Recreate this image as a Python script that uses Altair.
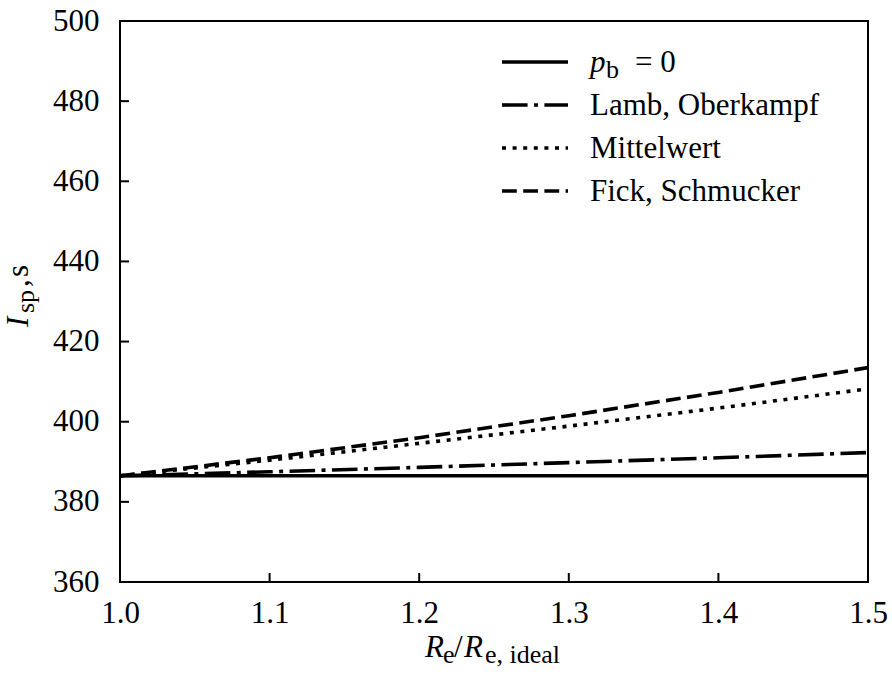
import altair as alt
import pandas as pd

# Specific impulse over expansion ratio for the back-pressure models
x_vals = [1.0, 1.1, 1.2, 1.3, 1.4, 1.5]
isp_pb0 = [386.5, 386.5, 386.5, 386.5, 386.5, 386.5]
isp_lamb = [386.5, 387.5, 388.6, 389.8, 391.0, 392.3]
isp_mittel = [386.5, 390.4, 394.6, 398.9, 403.4, 408.2]
isp_fick = [386.5, 391.0, 396.0, 401.5, 407.3, 413.5]

series_names = ["pb0", "Lamb, Oberkampf", "Mittelwert", "Fick, Schmucker"]
x_ticks = [1.0, 1.1, 1.2, 1.3, 1.4, 1.5]
y_ticks = [360, 380, 400, 420, 440, 460, 480, 500]

W, H = 748, 561
FONT = "Liberation Serif"
FS = 31      # main text size
SUB = 26     # subscript size
LW = 3.6
dashes = [[1, 0], [25.6, 6.4, 4, 6.4], [4, 6.6], [14.8, 6.4]]

rows = []
for name, ys in zip(series_names, [isp_pb0, isp_lamb, isp_mittel, isp_fick]):
    for x, y in zip(x_vals, ys):
        rows.append({"x": x, "isp": y, "series": name})
df = pd.DataFrame(rows)

xscale = alt.Scale(domain=[1.0, 1.5], nice=False, zero=False)
yscale = alt.Scale(domain=[360, 500], nice=False, zero=False)

x_axis = alt.Axis(values=x_ticks, format=".1f", title=None, domain=False, ticks=False,
                  grid=False, labelFont=FONT, labelFontSize=FS, labelPadding=16,
                  labelColor="black", labelFlush=False, labelOverlap=False)
y_axis = alt.Axis(values=y_ticks, format="d", title=None, domain=False, ticks=False,
                  grid=False, labelFont=FONT, labelFontSize=FS, labelPadding=21,
                  labelColor="black", labelFlush=False, labelOverlap=False)

lines = alt.Chart(df).mark_line(strokeWidth=LW, strokeCap="butt", color="black", clip=True).encode(
    x=alt.X("x:Q", scale=xscale, axis=x_axis),
    y=alt.Y("isp:Q", scale=yscale, axis=y_axis),
    strokeDash=alt.StrokeDash("series:N", scale=alt.Scale(domain=series_names, range=dashes),
                              legend=None),
)

# inward pointing ticks on the bottom and left edges
x_tick_marks = alt.Chart(pd.DataFrame({"xt": x_ticks})).mark_rule(color="black", strokeWidth=2).encode(
    x=alt.X("xt:Q", scale=xscale, axis=x_axis),
    y=alt.value(H), y2=alt.value(H - 9),
)
y_tick_marks = alt.Chart(pd.DataFrame({"yt": y_ticks})).mark_rule(color="black", strokeWidth=2).encode(
    y=alt.Y("yt:Q", scale=yscale, axis=y_axis),
    x=alt.value(0), x2=alt.value(9),
)

one = pd.DataFrame({"k": [0]})


def txt(s, x, y, size=FS, italic=False, angle=None):
    kw = dict(font=FONT, fontSize=size, align="left", baseline="alphabetic", color="black")
    if italic:
        kw["fontStyle"] = "italic"
    if angle is not None:
        kw["angle"] = angle
    return alt.Chart(one).mark_text(**kw).encode(
        x=alt.value(x), y=alt.value(y), text=alt.value(s))


def sample(dash, y):
    return alt.Chart(one).mark_rule(strokeWidth=LW, strokeCap="butt", color="black",
                                    strokeDash=dash).encode(
        x=alt.value(382), x2=alt.value(448), y=alt.value(y))


# x axis title: R_e / R_e,ideal
xb = 636
x_title = [
    txt("R", 305, xb, italic=True),
    txt("e", 323, xb + 6, size=SUB),
    txt("/", 334, xb),
    txt("R", 344, xb, italic=True),
    txt("e, ideal", 365, xb + 6, size=SUB),
]

# y axis title: I_sp, s (rotated)
yb = -92
y_title = [
    txt("I", yb, 306, italic=True, angle=270),
    txt("sp", yb + 6, 292, size=SUB, angle=270),
    txt(",", yb, 266, angle=270),
    txt("s", yb, 256, angle=270),
]

# legend
legend_lines = [41, 84, 127, 170]
legend = [sample(d, ly) for d, ly in zip(dashes, legend_lines)]
lb = [ly + 10 for ly in legend_lines]
legend += [
    txt("p", 470, lb[0], italic=True),
    txt("b", 486, lb[0] + 6, size=SUB),
    txt("= 0", 515, lb[0]),
    txt(series_names[1], 470, lb[1]),
    txt(series_names[2], 470, lb[2]),
    txt(series_names[3], 470, lb[3]),
]

chart = alt.layer(lines, x_tick_marks, y_tick_marks, *x_title, *y_title, *legend).properties(
    width=W, height=H,
    autosize=alt.AutoSizeParams(type="none"),
    padding={"left": 120, "top": 21, "right": 24, "bottom": 95},
    background="white",
).configure_view(stroke="black", strokeWidth=2)

chart.save("out.html", embed_options={"renderer": "svg", "actions": False})
